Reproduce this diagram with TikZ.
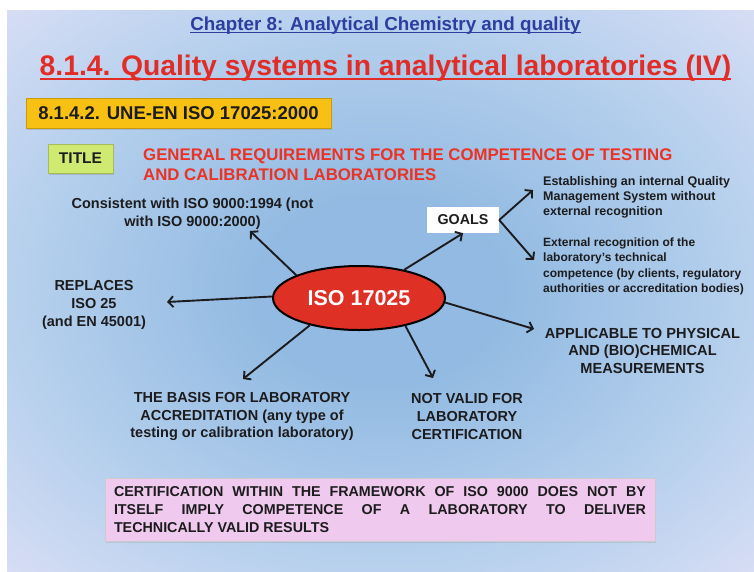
\documentclass[tikz,border=0pt]{standalone}
\usepackage{fontspec}
\setmainfont{Liberation Sans}
\usetikzlibrary{arrows.meta,positioning,shapes.geometric,shadows}
\definecolor{slideblue}{RGB}{146,186,226}
\definecolor{slidemid}{RGB}{182,208,237}
\definecolor{slideedge}{RGB}{222,224,246}
\definecolor{slidecorner}{RGB}{245,230,246}
\definecolor{chapblue}{RGB}{45,62,160}
\definecolor{titlered}{RGB}{226,44,38}
\definecolor{headred}{RGB}{236,50,36}
\definecolor{gold}{RGB}{248,192,18}
\definecolor{lime}{RGB}{206,234,112}
\definecolor{isored}{RGB}{222,48,36}
\definecolor{blush}{RGB}{240,202,238}
\definecolor{ink}{RGB}{28,28,30}
\pgfdeclareradialshading{slide}{\pgfpoint{0bp}{0bp}}{color(0bp)=(slideblue); color(8bp)=(slideblue); color(24bp)=(slidemid); color(38bp)=(slideedge); color(50bp)=(slidecorner); color(72bp)=(slidecorner)}
\tikzset{
  >={Straight Barb[length=5pt,width=11pt]},
  flow/.style={->,line width=1.9pt,draw=ink},
  lbl/.style={text=ink,align=center,inner sep=0pt,font=\fontsize{14.5}{17.8}\selectfont\bfseries},
  small lbl/.style={text=ink,align=left,inner sep=0pt,anchor=west,font=\fontsize{12.5}{15.2}\selectfont\bfseries},
  tagbox/.style={fill=#1,draw=#1!80!black,line width=0.4pt,text=ink,inner sep=0pt,
    drop shadow={opacity=0.3,shadow xshift=1pt,shadow yshift=-2pt}},
  tagbox/.default=gold,
}
\begin{document}
\begin{tikzpicture}[x=1pt,y=-1pt]
  \fill[white] (0,0) rectangle (754,571);
  \useasboundingbox (0,0) rectangle (754,571);
  \shade[shading=slide] (7,10) rectangle (754,571);

  % headings
  \node[text=chapblue,inner sep=0pt,anchor=base,font=\fontsize{18.8}{22}\selectfont\bfseries] (chap) at (385.5,30.7) {Chapter 8: Analytical Chemistry and quality};
  \draw[chapblue,line width=1.5pt] ([yshift=-1.6pt]chap.base west) -- ([yshift=-1.6pt]chap.base east);
  \node[text=titlered,inner sep=0pt,anchor=base,font=\fontsize{28.3}{32}\selectfont\bfseries] (title) at (385.5,75.1) {8.1.4. Quality systems in analytical laboratories (IV)};
  \draw[titlered,line width=2.4pt] ([yshift=-3.9pt]title.base west) -- ([yshift=-3.9pt]title.base east);

  \node[tagbox=gold,minimum width=305pt,minimum height=30pt,font=\fontsize{18.5}{22}\selectfont\bfseries] (std) at (178.5,113) {8.1.4.2. UNE-EN ISO 17025:2000};
  \node[tagbox=lime,minimum width=65pt,minimum height=29pt,font=\fontsize{15.5}{18}\selectfont\bfseries] (tag) at (80.5,158.5) {TITLE};
  \node[text=headred,align=left,inner sep=0pt,anchor=west,font=\fontsize{16.8}{20}\selectfont\bfseries] (head) at (143,165) {GENERAL REQUIREMENTS FOR THE COMPETENCE OF TESTING\\AND CALIBRATION LABORATORIES};

  % centre and branches
  \node[ellipse,fill=isored,draw=black,line width=2pt,minimum width=172pt,minimum height=64pt,text=white,font=\fontsize{21.5}{24}\selectfont\bfseries] (iso) at (359,298) {ISO 17025};
  \node[fill=white,minimum width=72pt,minimum height=26pt,inner sep=0pt,text=ink,font=\fontsize{14.3}{17}\selectfont\bfseries] (goals) at (463,220) {GOALS};

  \node[lbl] (cons) at (192.5,213.5) {Consistent with ISO 9000:1994 (not\\with ISO 9000:2000)};
  \node[lbl] (repl) at (94,305) {REPLACES\\ISO 25\\(and EN 45001)};
  \node[lbl] (basis) at (242,416.5) {THE BASIS FOR LABORATORY\\ACCREDITATION (any type of\\testing or calibration laboratory)};
  \node[lbl] (notvalid) at (467,416.5) {NOT VALID FOR\\LABORATORY\\CERTIFICATION};
  \node[lbl,font=\fontsize{14.6}{17.5}\selectfont\bfseries] (applic) at (642.5,350.5) {APPLICABLE TO PHYSICAL\\AND (BIO)CHEMICAL\\MEASUREMENTS};
  \node[small lbl] (est) at (543,197.3) {Establishing an internal Quality\\Management System without\\external recognition};
  \node[small lbl,font=\fontsize{12}{15.3}\selectfont\bfseries] (ext) at (543,266.5) {External recognition of the\\laboratory’s technical\\competence (by clients, regulatory\\authorities or accreditation bodies)};

  \coordinate (constip) at (250,231);
  \coordinate (repltip) at (167,302);
  \coordinate (applictip) at (534,329);
  \coordinate (basistip) at (243,379);
  \coordinate (notvalidtip) at (433,378);
  \coordinate (esttip) at (533,190);
  \coordinate (exttip) at (534,260);

  \foreach \a/\t in {160/constip,179/repltip,-3/applictip,209.6/basistip,-31.7/notvalidtip}
    \draw[flow] (iso.\a) -- (\t);
  \draw[flow] (iso.32.5) -- (goals.south);
  \foreach \t in {esttip,exttip}
    \draw[flow] (goals.east) -- (\t);

  % note
  \node[fill=blush,draw=gray!40,line width=0.5pt,minimum width=550pt,minimum height=63pt,inner xsep=9pt,inner ysep=0pt,
    text width=532pt,align=justify,text=ink,font=\fontsize{14.3}{18}\selectfont\bfseries,
    drop shadow={opacity=0.2,shadow xshift=1pt,shadow yshift=-1.5pt}] (note) at (380,509.5)
    {CERTIFICATION WITHIN THE FRAMEWORK OF ISO 9000 DOES NOT BY\linebreak ITSELF IMPLY COMPETENCE OF A LABORATORY TO DELIVER\linebreak TECHNICALLY VALID RESULTS};
\end{tikzpicture}
\end{document}
